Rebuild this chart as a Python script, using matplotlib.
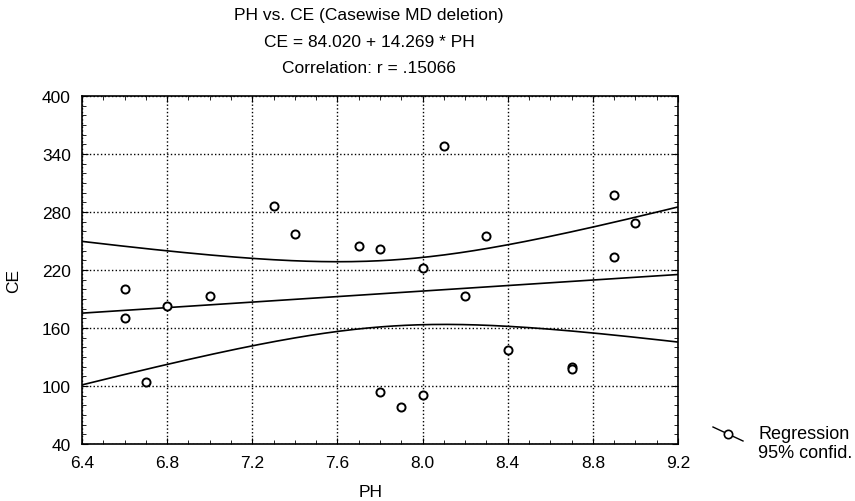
import matplotlib
matplotlib.use('Agg')
import matplotlib.pyplot as plt
from matplotlib.lines import Line2D
from matplotlib.ticker import MultipleLocator
import numpy as np

plt.rcParams['font.family'] = ['Liberation Sans', 'DejaVu Sans']

# data
ph = [6.6, 6.6, 6.7, 6.8, 7.0, 7.3, 7.4, 7.7, 7.8, 7.8, 7.9,
      8.0, 8.0, 8.1, 8.2, 8.3, 8.4, 8.7, 8.7, 8.9, 8.9, 9.0]
ce = [200, 170, 104, 183, 193, 286, 257, 245, 242, 94, 78,
      222, 91, 348, 193, 255, 137, 120, 118, 297, 233, 269]

intercept = 84.020
slope = 14.269

x = np.array(ph)
y = np.array(ce)
n = len(x)

# regression line and 95% band around the mean
xs = np.linspace(6.4, 9.2, 200)
fit = intercept + slope * xs
resid = y - (intercept + slope * x)
s = np.sqrt(np.sum(resid ** 2) / (n - 2))
sxx = np.sum((x - x.mean()) ** 2)
t = 2.086  # t(0.975, 20)
half = t * s * np.sqrt(1.0 / n + (xs - x.mean()) ** 2 / sxx)

fig = plt.figure(figsize=(8.55, 5.02), dpi=100)
ax = fig.add_axes([0.0959, 0.1135, 0.6971, 0.6935])

ax.plot(xs, fit, color='black', lw=1.2)
ax.plot(xs, fit + half, color='black', lw=1.2)
ax.plot(xs, fit - half, color='black', lw=1.2)
ax.scatter(x, y, s=34, facecolors='white', edgecolors='black', linewidths=1.4, zorder=3)

ax.set_xlim(6.4, 9.2)
ax.set_ylim(40, 400)
ax.set_xticks(np.arange(6.4, 9.21, 0.4))
ax.set_xticklabels(['%.1f' % v for v in np.arange(6.4, 9.21, 0.4)])
ax.xaxis.set_minor_locator(MultipleLocator(0.1))
ax.set_yticks(np.arange(40, 401, 60))
ax.yaxis.set_minor_locator(MultipleLocator(10))
ax.tick_params(which='both', direction='in', top=True, right=True, labelsize=12.5)
ax.tick_params(which='major', length=4)
ax.tick_params(which='minor', length=3)
ax.tick_params(axis='x', pad=8)
ax.tick_params(axis='y', pad=8)
ax.grid(True, which='major', color='black', linestyle=':', lw=1.0)
for sp in ax.spines.values():
    sp.set_linewidth(1.2)

ax.set_xlabel('PH', fontsize=12.5)
ax.xaxis.set_label_coords(0.485, -0.115)
ax.set_ylabel('CE', fontsize=12.5)
ax.yaxis.set_label_coords(-0.102, 0.471)

cx = 369 / 855
fig.text(cx, 0.970, 'PH vs. CE (Casewise MD deletion)', ha='center', va='center', fontsize=12.5)
fig.text(cx, 0.916, 'CE = 84.020 + 14.269 * PH', ha='center', va='center', fontsize=12.5)
fig.text(cx, 0.864, 'Correlation: r = .15066', ha='center', va='center', fontsize=12.5)

# legend key: slanted line through an open circle
fig.add_artist(Line2D([713 / 855, 743 / 855], [1 - 428 / 502, 1 - 442 / 502],
                      color='black', lw=1.0, transform=fig.transFigure))
fig.add_artist(Line2D([728 / 855], [1 - 435 / 502], marker='o', markersize=6,
                      markerfacecolor='white', markeredgecolor='black', mew=1.2,
                      transform=fig.transFigure))
fig.text(758 / 855, 1 - 444 / 502, 'Regression\n95% confid.', ha='left', va='center',
         fontsize=13, linespacing=1.1)

plt.savefig('out.png', dpi=100, facecolor='white')
plt.close()
